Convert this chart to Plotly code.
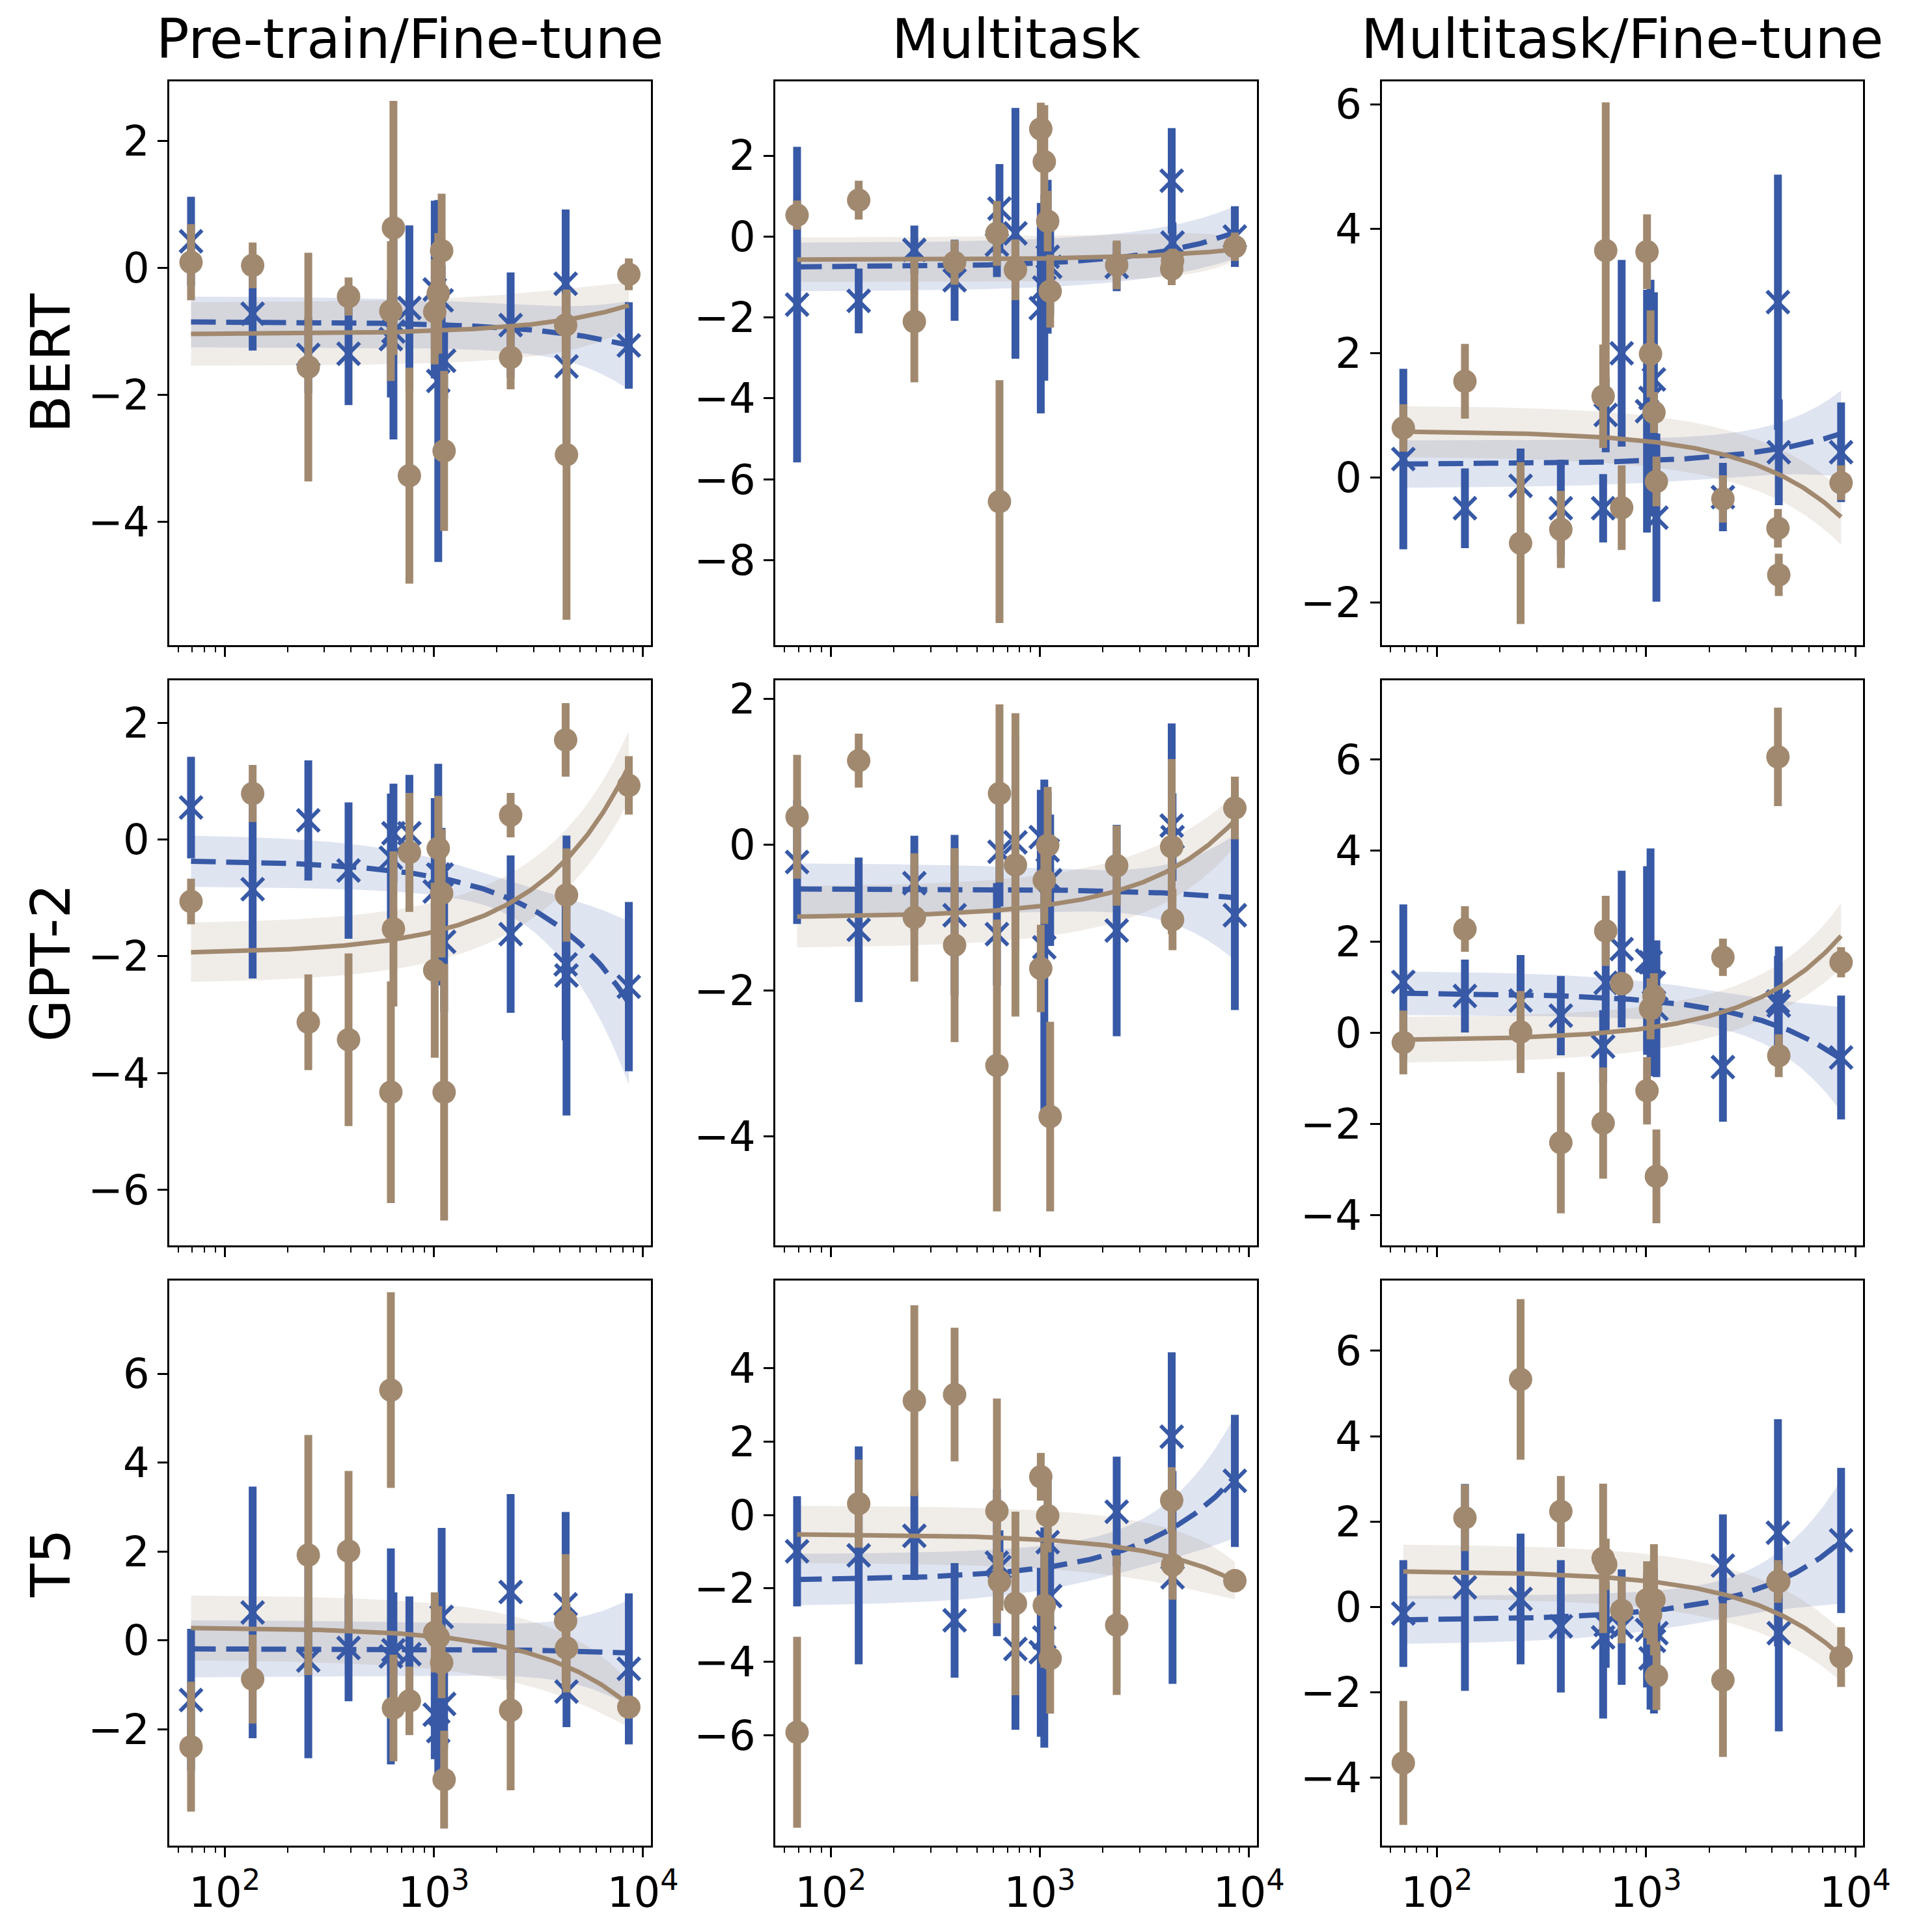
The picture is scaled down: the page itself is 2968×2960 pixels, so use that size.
import numpy as np
import plotly.graph_objects as go
from plotly.subplots import make_subplots

# dataset sizes shared by every panel
X = [69, 136, 251, 391, 623, 641, 764, 1010, 1050, 1090, 1120, 2330, 4270, 4310, 8560]

# fit = [blue_left, blue_right, blue_halfwidth_left, blue_halfwidth_right,
#        brown_left, brown_right, brown_halfwidth_left, brown_halfwidth_right]

# BERT, Pre-train/Fine-tune
bert_pf_blue = [0.42, -0.72, -1.37, -1.35, -1.12, -1.0, -0.63, -0.34, -1.78, -0.51, -1.46, -0.90, -0.25, -1.55, -1.22]
bert_pf_blue_err = [0.70, 0.58, 0.6, 0.81, 0.92, 1.7, 1.3, 1.4, 2.85, 0.55, 0.6, 0.83, 1.17, 1.2, 0.68]
bert_pf_brown = [0.09, 0.04, -1.56, -0.45, -0.68, 0.63, -3.27, -0.69, -0.40, 0.27, -2.88, -1.41, -0.90, -2.94, -0.10]
bert_pf_brown_err = [0.6, 0.36, 1.8, 0.3, 1.1, 2.0, 1.7, 0.83, 0.95, 0.9, 1.26, 0.5, 0.5, 2.6, 0.25]
bert_pf_fit = [-0.85, -1.22, 0.4, 0.7, -1.04, -0.59, 0.5, 0.35]
bert_pf_ticks = [2, 0, -2, -4]

# BERT, Multitask
bert_mt_blue = [-1.68, -1.59, -0.33, -1.08, -0.2, 0.69, 0.08, -1.77, -1.26, -0.5, -0.75, -0.75, 1.38, -0.15, 0.0]
bert_mt_blue_err = [3.9, 0.8, 0.6, 1.0, 0.8, 1.1, 3.1, 2.6, 2.3, 1.9, 1.2, 0.6, 1.3, 0.5, 0.75]
bert_mt_brown = [0.53, 0.90, -2.10, -0.64, 0.08, -6.55, -0.82, 2.66, 1.85, 0.38, -1.35, -0.70, -0.80, -0.6, -0.25]
bert_mt_brown_err = [0.36, 0.48, 1.5, 0.55, 0.8, 3.0, 0.75, 0.65, 1.4, 0.75, 0.9, 0.6, 0.4, 0.3, 0.35]
bert_mt_fit = [-0.75, 0.1, 0.6, 0.65, -0.57, -0.32, 0.55, 0.25]
bert_mt_ticks = [2, 0, -2, -4, -6, -8]

# BERT, Multitask/Fine-tune
bert_mf_blue = [0.30, -0.49, -0.13, -0.49, -0.49, 1.01, 2.0, 1.07, 1.28, 1.58, -0.64, -0.31, 2.82, 0.41, 0.41]
bert_mf_blue_err = [1.45, 0.64, 0.6, 0.78, 0.55, 0.6, 1.5, 1.95, 1.9, 1.4, 1.35, 0.55, 2.05, 0.85, 0.8]
bert_mf_brown = [0.80, 1.55, -1.05, -0.83, 1.31, 3.65, -0.48, 3.63, 1.99, 1.05, -0.06, -0.34, -0.81, -1.56, -0.08]
bert_mf_brown_err = [0.38, 0.6, 1.3, 0.62, 0.83, 2.38, 0.68, 0.6, 0.7, 0.33, 0.4, 0.38, 0.31, 0.34, 0.28]
bert_mf_fit = [0.22, 0.71, 0.38, 0.69, 0.74, -0.63, 0.41, 0.45]
bert_mf_ticks = [6, 4, 2, 0, -2]

# GPT-2, Pre-train/Fine-tune
gpt_pf_blue = [0.55, -0.85, 0.33, -0.53, -0.31, 0.11, 0.11, -0.89, -0.6, -0.6, -1.75, -1.62, -2.14, -2.33, -2.52]
gpt_pf_blue_err = [0.87, 1.53, 1.03, 1.17, 1.1, 0.85, 1.0, 1.6, 1.9, 0.8, 1.2, 1.35, 1.3, 2.4, 1.45]
gpt_pf_brown = [-1.06, 0.79, -3.13, -3.43, -4.33, -1.53, -0.22, -2.24, -0.15, -0.92, -4.33, 0.42, 1.71, -0.95, 0.93]
gpt_pf_brown_err = [0.39, 0.49, 0.82, 1.48, 1.9, 1.33, 1.02, 1.5, 0.9, 1.1, 2.2, 0.38, 0.63, 0.8, 0.5]
gpt_pf_fit = [-0.37, -2.8, 0.44, 1.4, -1.93, 1.26, 0.51, 0.6]
gpt_pf_ticks = [2, 0, -2, -4, -6]

# GPT-2, Multitask
gpt_mt_blue = [-0.24, -1.17, -0.53, -0.97, -1.23, -0.1, 0.03, 0.1, -1.41, -0.08, -0.49, -1.18, 0.26, 0.1, -0.97]
gpt_mt_blue_err = [0.85, 0.99, 0.65, 1.1, 0.7, 0.75, 1.45, 0.65, 2.3, 0.8, 0.9, 1.45, 1.4, 0.6, 1.3]
gpt_mt_brown = [0.38, 1.15, -1.0, -1.38, -3.03, 0.70, -0.28, -1.70, -0.49, -0.01, -3.73, -0.29, -0.03, -1.03, 0.50]
gpt_mt_brown_err = [0.85, 0.37, 0.88, 1.33, 2.0, 1.22, 2.08, 0.6, 0.6, 0.8, 1.3, 0.55, 1.2, 0.42, 0.43]
gpt_mt_fit = [-0.61, -0.73, 0.35, 0.86, -0.99, 0.33, 0.42, 0.35]
gpt_mt_ticks = [2, 0, -2, -4]

# GPT-2, Multitask/Fine-tune
gpt_mf_blue = [1.12, 0.81, 0.71, 0.38, -0.30, 1.1, 1.84, 1.59, 1.55, 1.1, 0.53, -0.75, 0.69, 0.6, -0.54]
gpt_mf_blue_err = [1.7, 0.8, 1.0, 0.87, 0.8, 1.1, 1.72, 2.07, 2.5, 0.9, 1.5, 1.2, 1.0, 1.3, 1.36]
gpt_mf_brown = [-0.21, 2.28, 0.02, -2.41, -1.98, 2.24, 1.08, -1.27, 0.53, 0.81, -3.15, 1.66, 6.06, -0.50, 1.55]
gpt_mf_brown_err = [0.7, 0.5, 0.9, 1.55, 1.22, 0.77, 0.2, 0.74, 0.67, 0.5, 1.03, 0.41, 1.08, 0.47, 0.33]
gpt_mf_fit = [0.87, -0.58, 0.48, 1.15, -0.15, 2.13, 0.5, 0.72]
gpt_mf_ticks = [6, 4, 2, 0, -2, -4]

# T5, Pre-train/Fine-tune
t5_pf_blue = [-1.34, 0.63, -0.45, -0.17, -0.36, -0.22, -0.31, -1.67, -2.04, 0.53, -1.43, 1.09, 0.81, -1.15, -0.64]
t5_pf_blue_err = [1.6, 2.83, 2.2, 1.2, 2.43, 1.3, 1.3, 1.0, 1.1, 2.0, 1.0, 2.2, 2.08, 0.8, 1.7]
t5_pf_brown = [-2.39, -0.87, 1.92, 2.01, 5.63, -1.52, -1.36, 0.18, 0.07, -0.50, -3.13, -1.57, 0.44, -0.17, -1.50]
t5_pf_brown_err = [1.46, 1.0, 2.7, 1.8, 2.2, 1.2, 0.77, 0.9, 0.7, 0.8, 1.1, 1.8, 1.5, 1.0, 0.2]
t5_pf_fit = [-0.19, -0.28, 0.64, 1.2, 0.28, -1.45, 0.73, 0.5]
t5_pf_ticks = [6, 4, 2, 0, -2]

# T5, Multitask
t5_mt_blue = [-0.99, -1.1, -0.57, -2.87, -1.3, -1.42, -3.65, -3.74, -3.34, -0.74, -2.21, 0.09, 2.13, -1.7, 0.93]
t5_mt_blue_err = [1.5, 2.97, 1.2, 1.56, 2.0, 1.0, 2.2, 2.3, 3.0, 1.8, 1.5, 1.5, 2.3, 2.9, 1.8]
t5_mt_brown = [-5.92, 0.31, 3.11, 3.28, 0.11, -1.81, -2.41, 1.04, -2.46, -0.02, -3.91, -3.0, 0.40, -1.36, -1.79]
t5_mt_brown_err = [2.6, 1.2, 2.6, 1.82, 3.06, 0.8, 2.5, 0.65, 1.7, 1.0, 1.5, 1.9, 0.9, 0.95, 0.3]
t5_mt_fit = [-1.76, 1.04, 0.7, 1.67, -0.53, -1.79, 0.78, 0.5]
t5_mt_ticks = [4, 2, 0, -2, -4, -6]

# T5, Multitask/Fine-tune
t5_mf_blue = [-0.15, 0.46, 0.19, -0.45, -0.71, -0.42, -0.47, -0.54, -1.2, -0.79, -0.61, 0.97, 1.74, -0.61, 1.56]
t5_mf_blue_err = [1.25, 2.42, 1.53, 1.55, 1.9, 1.0, 1.35, 1.34, 1.2, 1.7, 1.0, 1.2, 2.66, 2.3, 1.7]
t5_mf_brown = [-3.65, 2.09, 5.33, 2.24, 1.14, 1.0, -0.08, 0.17, -0.18, 0.17, -1.61, -1.71, 0.60, 0.6, -1.17]
t5_mf_brown_err = [1.45, 0.78, 1.88, 0.83, 1.75, 0.6, 0.77, 0.9, 0.7, 1.3, 0.8, 1.8, 0.5, 0.4, 0.7]
t5_mf_fit = [-0.30, 1.53, 0.56, 1.45, 0.83, -1.15, 0.63, 0.6]
t5_mf_ticks = [6, 4, 2, 0, -2, -4]

COL_TITLES = ["Pre-train/Fine-tune", "Multitask", "Multitask/Fine-tune"]
ROW_TITLES = ["BERT", "GPT-2", "T5"]

panels = [
    (bert_pf_blue, bert_pf_blue_err, bert_pf_brown, bert_pf_brown_err, bert_pf_fit, bert_pf_ticks, [-5.94, 2.94]),
    (bert_mt_blue, bert_mt_blue_err, bert_mt_brown, bert_mt_brown_err, bert_mt_fit, bert_mt_ticks, [-10.1, 3.84]),
    (bert_mf_blue, bert_mf_blue_err, bert_mf_brown, bert_mf_brown_err, bert_mf_fit, bert_mf_ticks, [-2.69, 6.37]),
    (gpt_pf_blue, gpt_pf_blue_err, gpt_pf_brown, gpt_pf_brown_err, gpt_pf_fit, gpt_pf_ticks, [-6.96, 2.73]),
    (gpt_mt_blue, gpt_mt_blue_err, gpt_mt_brown, gpt_mt_brown_err, gpt_mt_fit, gpt_mt_ticks, [-5.5, 2.25]),
    (gpt_mf_blue, gpt_mf_blue_err, gpt_mf_brown, gpt_mf_brown_err, gpt_mf_fit, gpt_mf_ticks, [-4.67, 7.74]),
    (t5_pf_blue, t5_pf_blue_err, t5_pf_brown, t5_pf_brown_err, t5_pf_fit, t5_pf_ticks, [-4.61, 8.09]),
    (t5_mt_blue, t5_mt_blue_err, t5_mt_brown, t5_mt_brown_err, t5_mt_fit, t5_mt_ticks, [-9.0, 6.38]),
    (t5_mf_blue, t5_mf_blue_err, t5_mf_brown, t5_mf_brown_err, t5_mf_fit, t5_mf_ticks, [-5.58, 7.64]),
]

BLUE = "#3759a6"
BROWN = "#a1896f"
BLUE_BAND = "rgba(55,89,166,0.16)"
BROWN_BAND = "rgba(161,137,111,0.16)"
FONT = "DejaVu Sans"

XD = [(0.0863, 0.3390), (0.4046, 0.6573), (0.7230, 0.9757)]
YD = [(0.6699, 0.9635), (0.3574, 0.6516), (0.0452, 0.3391)]

MINOR = [m * 10 ** e for e in (1, 2, 3) for m in range(2, 10)]


def fit_line(left, right, h_left, h_right):
    """linear fit in x (shown on log axis) with a widening confidence band"""
    xs = np.logspace(np.log10(X[0]), np.log10(X[-1]), 240)
    t = (xs - X[0]) / (X[-1] - X[0])
    mid = left + (right - left) * t
    xc = np.mean(X)
    d0 = (X[0] - xc) ** 2
    d1 = (X[-1] - xc) ** 2
    b = (h_right ** 2 - h_left ** 2) / (d1 - d0)
    a = h_left ** 2 - b * d0
    h = np.sqrt(np.maximum(a + b * (xs - xc) ** 2, 0.0))
    return xs, mid, h


def minus(v):
    return str(v) if v >= 0 else "\u2212" + str(-v)


fig = make_subplots(rows=3, cols=3)

for k, (by, be, oy, oe, fit, yticks, yr) in enumerate(panels):
    r, c = k // 3 + 1, k % 3 + 1

    # bands first
    for (l, rr, hl, hr), col in [(fit[0:4], BLUE_BAND), (fit[4:8], BROWN_BAND)]:
        xs, mid, h = fit_line(l, rr, hl, hr)
        fig.add_trace(go.Scatter(x=xs, y=mid + h, mode="lines", line=dict(width=0),
                                 hoverinfo="skip", showlegend=False), row=r, col=c)
        fig.add_trace(go.Scatter(x=xs, y=mid - h, mode="lines", line=dict(width=0),
                                 fill="tonexty", fillcolor=col,
                                 hoverinfo="skip", showlegend=False), row=r, col=c)

    # blue x markers
    fig.add_trace(go.Scatter(
        x=X, y=by, mode="markers",
        marker=dict(symbol="x-thin", size=34, color=BLUE, line=dict(width=6, color=BLUE)),
        error_y=dict(type="data", array=be, visible=True, color=BLUE, thickness=12, width=0),
        showlegend=False), row=r, col=c)
    xs, mid, _ = fit_line(*fit[0:4])
    fig.add_trace(go.Scatter(x=xs, y=mid, mode="lines",
                             line=dict(color=BLUE, width=8, dash="38px,16px"),
                             showlegend=False), row=r, col=c)

    # brown circles
    fig.add_trace(go.Scatter(
        x=X, y=oy, mode="markers",
        marker=dict(symbol="circle", size=36, color=BROWN),
        error_y=dict(type="data", array=oe, visible=True, color=BROWN, thickness=12, width=0),
        showlegend=False), row=r, col=c)
    xs, mid, _ = fit_line(*fit[4:8])
    fig.add_trace(go.Scatter(x=xs, y=mid, mode="lines",
                             line=dict(color=BROWN, width=7),
                             showlegend=False), row=r, col=c)

    bottom = (r == 3)
    fig.update_xaxes(
        type="log", range=[1.736, 4.037], domain=list(XD[c - 1]),
        tickmode="array", tickvals=[100, 1000, 10000],
        ticktext=["10<sup>2</sup>", "10<sup>3</sup>", "10<sup>4</sup>"],
        showticklabels=bottom,
        ticks="outside", ticklen=15, tickwidth=3, tickcolor="black",
        minor=dict(tickmode="array", tickvals=MINOR, ticks="outside",
                   ticklen=8, tickwidth=2, tickcolor="black", showgrid=False),
        showline=True, mirror=True, linecolor="black", linewidth=3,
        showgrid=False, zeroline=False,
        tickfont=dict(family=FONT, size=64, color="black"),
        row=r, col=c)
    fig.update_yaxes(
        range=yr, domain=list(YD[r - 1]),
        tickmode="array", tickvals=yticks, ticktext=[minus(v) for v in yticks],
        ticks="outside", ticklen=15, tickwidth=3, tickcolor="black",
        showline=True, mirror=True, linecolor="black", linewidth=3,
        showgrid=False, zeroline=False,
        tickfont=dict(family=FONT, size=64, color="black"),
        row=r, col=c)

annotations = []
for i, t in enumerate(COL_TITLES):
    annotations.append(dict(
        text=t, x=(XD[i][0] + XD[i][1]) / 2, y=YD[0][1], xref="paper", yref="paper",
        xanchor="center", yanchor="bottom", yshift=14, showarrow=False,
        font=dict(family=FONT, size=84, color="black")))
for i, t in enumerate(ROW_TITLES):
    annotations.append(dict(
        text=t, x=0.024, y=(YD[i][0] + YD[i][1]) / 2, xref="paper", yref="paper",
        xanchor="center", yanchor="middle", textangle=-90, showarrow=False,
        font=dict(family=FONT, size=84, color="black")))

fig.update_layout(
    width=2968, height=2960,
    margin=dict(l=0, r=0, t=0, b=0),
    paper_bgcolor="white", plot_bgcolor="white",
    annotations=annotations,
    font=dict(family=FONT, color="black"),
)

fig.write_html("out.html")
